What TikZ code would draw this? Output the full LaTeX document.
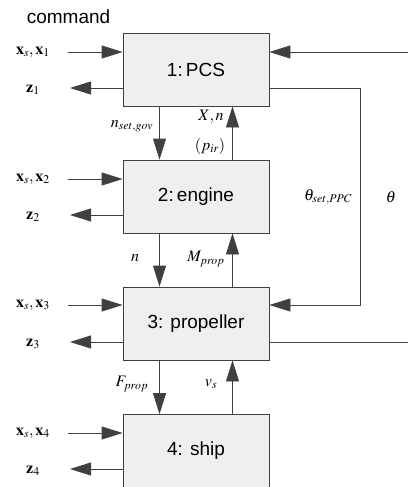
\documentclass[tikz,border=0pt]{standalone}
\usepackage{mathptmx}
\usepackage{fontspec}
\setmainfont{Liberation Sans}
\usetikzlibrary{arrows.meta}
\definecolor{boxfill}{HTML}{EFEFEF}
\definecolor{linec}{HTML}{404040}
\begin{document}
\begin{tikzpicture}[x=1pt,y=-1pt,
  blk/.style={draw=linec, fill=boxfill, minimum width=146pt, minimum height=73pt, inner sep=0pt, font=\fontsize{19}{22}\selectfont, line width=0.8pt},
  arr/.style={draw=linec, line width=0.8pt, -{Triangle[length=21pt,width=13pt]}},
  ln/.style={draw=linec, line width=0.8pt},
  lbl/.style={font=\fontsize{16}{18}\selectfont, inner sep=0pt}]
\useasboundingbox (0,0) rectangle (408,487);
\node[blk] (b1) at (196,69.5) {1:\,PCS};
\node[blk] (b2) at (196,196.5) {2:\,engine};
\node[blk] (b3) at (196,323.5) {3: propeller};
\node[blk] (b4) at (196,451) {4: ship};
\node[font=\fontsize{19}{22}\selectfont, inner sep=0pt] (cmd) at (68.5,17) {command};
% left inputs / outputs
\foreach \k/\yi/\yo in {1/52/88, 2/179/215, 3/305/342, 4/433/469}{
  \coordinate (i\k) at (68,\yi);
  \coordinate (o\k) at (70,\yo);
  \draw[arr] (i\k) -- (i\k -| b\k.west);
  \draw[arr] (o\k -| b\k.west) -- (o\k);
  \node[lbl] (xi\k) at (33,\yi) {$\mathbf{x}_s,\mathbf{x}_{\k}$};
  \node[lbl] (zo\k) at (33,\yo+2) {$\mathbf{z}_{\k}$};
}
% vertical arrows
\draw[arr] ([xshift=-36.5pt]b1.south) -- ([xshift=-36.5pt]b2.north);
\draw[arr] ([xshift=36.5pt]b2.north) -- ([xshift=36.5pt]b1.south);
\draw[arr] ([xshift=-36.5pt]b2.south) -- ([xshift=-36.5pt]b3.north);
\draw[arr] ([xshift=36.5pt]b3.north) -- ([xshift=36.5pt]b2.south);
\draw[arr] ([xshift=-36.5pt]b3.south) -- ([xshift=-36.5pt]b4.north);
\draw[arr] ([xshift=36.5pt]b4.north) -- ([xshift=36.5pt]b3.south);
% right side
\coordinate (r1) at (408,52);
\draw[arr] (r1) -- (r1 -| b1.east);
\coordinate (c1) at (360,88);
\coordinate (c2) at (360,305);
\draw[arr] (c1 -| b1.east) -- (c1) -- (c2) -- (c2 -| b3.east);
\coordinate (r3) at (408,342);
\draw[ln] (r3 -| b3.east) -- (r3);
% labels
\node[lbl] (l1) at (132,126) {$n_{set,gov}$};
\node[lbl] (l2) at (211,117) {$X,n$};
\node[lbl] (l3) at (210,146) {$(p_{ir})$};
\node[lbl] (l4) at (328,197) {$\theta_{set,PPC}$};
\node[lbl] (l5) at (391,197) {$\theta$};
\node[lbl] (l6) at (135,258) {$n$};
\node[lbl] (l7) at (206,259) {$M_{prop}$};
\node[lbl] (l8) at (132,384) {$F_{prop}$};
\node[lbl] (l9) at (211,384) {$v_s$};
\end{tikzpicture}
\end{document}
